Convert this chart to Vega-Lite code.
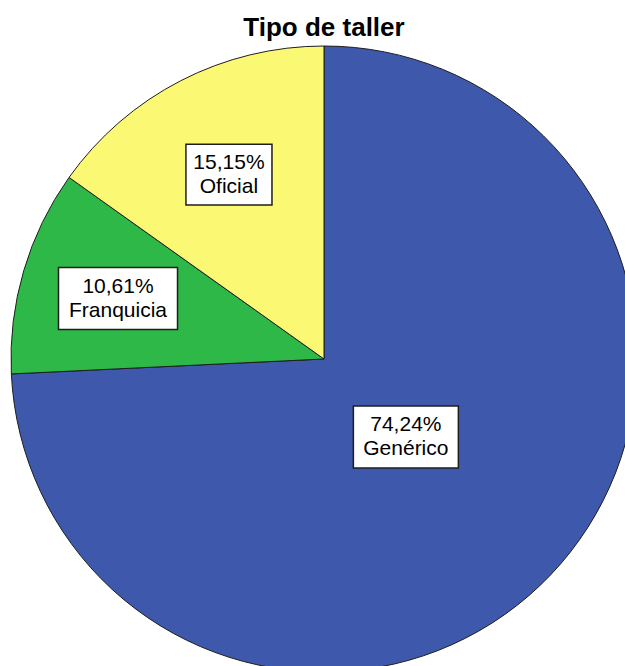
{
  "$schema": "https://vega.github.io/schema/vega-lite/v6.json",
  "width": 602,
  "height": 614,
  "autosize": {"type": "none"},
  "padding": {"left": 23, "top": 52, "right": 0, "bottom": 0},
  "background": "white",
  "title": {
    "text": "Tipo de taller",
    "font": "Liberation Sans",
    "fontSize": 26,
    "fontWeight": "bold",
    "color": "#000000",
    "anchor": "middle",
    "frame": "group",
    "baseline": "alphabetic",
    "offset": -18
  },
  "config": {"view": {"stroke": null}},
  "data": {
    "values": [
      {"tipo": "Genérico", "pct": 74.24},
      {"tipo": "Franquicia", "pct": 10.61},
      {"tipo": "Oficial", "pct": 15.15}
    ]
  },
  "transform": [
    {"window": [{"op": "row_number", "as": "rn"}]},
    {"stack": "pct", "groupby": [], "sort": [{"field": "rn"}], "as": ["s0", "s1"]},
    {"calculate": "PI * (datum.s0 + datum.s1) / 100", "as": "mid"},
    {"calculate": "313 * (0.74 - 0.51 * datum.pct / 100)", "as": "lr"},
    {"calculate": "datum.lr * sin(datum.mid)", "as": "lx"},
    {"calculate": "datum.lr * cos(datum.mid)", "as": "ly"},
    {"calculate": "[replace(format(datum.pct, '.2f'), '.', ',') + '%', datum.tipo]", "as": "lab"}
  ],
  "layer": [
    {
      "mark": {"type": "arc", "radius": 313, "stroke": "#1e1e1e", "strokeWidth": 1},
      "encoding": {
        "theta": {"field": "s0", "type": "quantitative", "scale": {"domain": [0, 100]}},
        "theta2": {"field": "s1"},
        "color": {
          "field": "tipo",
          "type": "nominal",
          "scale": {"domain": ["Genérico", "Franquicia", "Oficial"], "range": ["#3E58AC", "#2EB848", "#FBF873"]},
          "legend": null
        }
      }
    },
    {
      "mark": {"type": "point", "filled": true, "fill": "white", "stroke": "#1e1e1e", "strokeWidth": 1.5, "opacity": 1, "size": 14400},
      "encoding": {
        "x": {"field": "lx", "type": "quantitative", "scale": {"domain": [-301, 301], "nice": false}, "axis": null},
        "y": {"field": "ly", "type": "quantitative", "scale": {"domain": [-307, 307], "nice": false}, "axis": null},
        "shape": {
          "field": "tipo",
          "type": "nominal",
          "scale": {
            "domain": ["Genérico", "Franquicia", "Oficial"],
            "range": ["M-0.875,-0.517H0.875V0.517H-0.875Z", "M-0.992,-0.517H0.992V0.517H-0.992Z", "M-0.717,-0.508H0.717V0.508H-0.717Z"]
          },
          "legend": null
        }
      }
    },
    {
      "mark": {"type": "text", "font": "Liberation Sans", "fontSize": 21, "lineHeight": 24, "align": "center", "baseline": "middle", "dy": -12, "color": "#000000"},
      "encoding": {
        "x": {"field": "lx", "type": "quantitative", "scale": {"domain": [-301, 301], "nice": false}, "axis": null},
        "y": {"field": "ly", "type": "quantitative", "scale": {"domain": [-307, 307], "nice": false}, "axis": null},
        "text": {"field": "lab"}
      }
    }
  ]
}
